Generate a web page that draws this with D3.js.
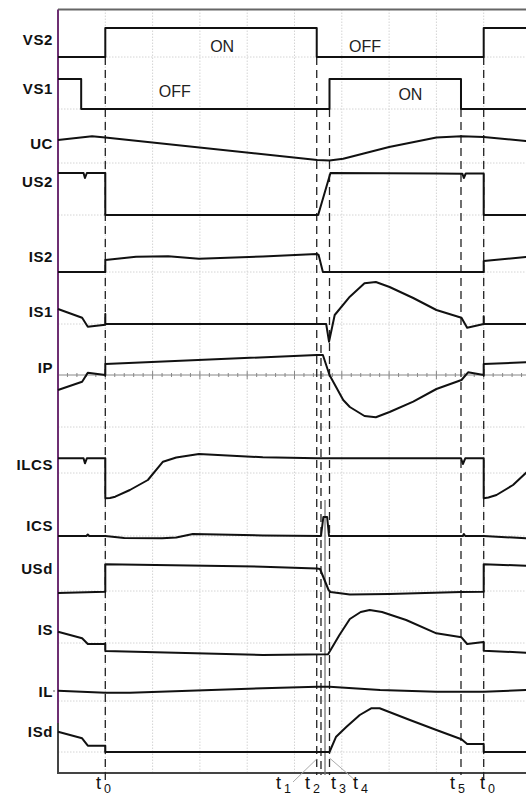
<!DOCTYPE html>
<html><head><meta charset="utf-8">
<script src="https://cdn.jsdelivr.net/npm/d3@7"></script>
<style>html,body{margin:0;padding:0;background:#fff;overflow:hidden}</style>
</head><body>
<svg id="chart" width="526" height="797"></svg>
<script>
// ---------- DATA (time in grid divisions, value in signal units) ----------
const signalNames = ["VS2","VS1","UC","US2","IS2","IS1","IP","ILCS","ICS","USd","IS","IL","ISd"];
const eventNames  = ["t0","t1","t2","t3","t4","t5","t0"];
const eventTimes  = [1.0, 5.47, 5.56, 5.645, 5.74, 8.52, 9.0];
const stateLabelsVS2 = [["ON",3.47],["OFF",6.49]];
const stateLabelsVS1 = [["OFF",2.47],["ON",7.45]];

const vs2 = [[0,0],[1,0],[1,29],[5.47,29],[5.47,0],[9,0],[9,29],[10,29]];
const vs1 = [[0,30],[0.49,30],[0.49,0],[5.74,0],[5.74,30],[8.52,30],[8.52,0],[10,0]];
const uc  = [[0,23],[0.72,26.7],[1.0,25.5],[5.48,3],[5.74,2.5],[6.03,4.3],[7.0,16],[8.0,25.5],[8.53,26.7],[9.0,26],[9.89,22],[10,21]];
const us2 = [[0,42],[0.54,42],[0.57,37],[0.61,42],[1,42],[1,0],[5.50,0],[5.76,42],[8.0,41.5],[8.55,41.3],[8.58,37],[8.62,41.5],[9.0,41.5],[9.0,0],[10,0]];
const is2 = [[0,0],[1,0],[1,12],[1.65,15.3],[2.33,15.7],[2.98,13.3],[4.33,15.5],[5.47,18],[5.51,17],[5.60,0],[9,0],[9,11],[9.89,15],[10,15.5]];
const is1 = [[0,15],[0.51,6.3],[0.63,-2.7],[1,-0.7],[1,10],[1,0],[5.67,0],[5.73,-17.7],[5.85,9],[6.17,27.3],[6.48,40.7],[6.72,42],[7.01,37],[7.51,26],[8.0,14],[8.53,6.3],[8.65,-3.7],[9,0],[9,7.7],[9,0],[10,0]];
const ip  = [[0,-15],[0.51,-6.7],[0.63,2.3],[1,0],[1,11],[5.47,20],[5.60,20],[5.74,0],[6.03,-25],[6.17,-32],[6.48,-41],[6.72,-42.3],[7.01,-37],[7.51,-26.7],[8.0,-14],[8.53,-5],[8.67,2.7],[9,0],[9,11],[9.89,12.7],[10,13]];
const ilcs= [[0,14.7],[0.54,14.7],[0.57,9.7],[0.61,14.7],[1,14.7],[1,-25.3],[1.1,-25],[1.21,-23.7],[1.52,-17],[1.90,-7],[2.22,11.3],[2.5,15.5],[2.98,19],[4.33,15.7],[5.48,14.7],[8.52,14.7],[8.56,9],[8.61,14.7],[9.0,14.7],[9.0,-25.3],[9.1,-24.5],[9.27,-22],[9.62,-12],[9.89,0],[10,4]];
const ics = [[0,0],[0.6,0],[0.63,1.5],[0.66,0],[1,0],[1.4,-2],[2.2,-2.3],[2.5,-1.5],[2.85,2],[4.33,0.5],[5.56,0],[5.61,19],[5.69,19],[5.73,0],[8.56,0],[8.58,2],[8.61,0],[9,0],[9.89,-2.3],[10,-2.5]];
const usd = [[0,-2],[1,-0.7],[1,26.7],[4.33,24.3],[5.47,22.5],[5.54,22],[5.72,1],[5.76,-1],[6.17,-3.5],[7.0,-3],[8.52,-1],[9,-0.7],[9,26.7],[9.89,25.3],[10,25.2]];
const isig= [[0,11.3],[0.51,4.7],[0.63,-1],[1,-1],[1,-8],[4.33,-12],[5.71,-11.3],[5.95,8],[6.17,24],[6.4,31],[6.59,33],[6.85,31],[7.36,23],[8.0,9.7],[8.53,5.7],[8.65,-1],[9,1],[9,-7.7],[9.89,-9.7],[10,-9.8]];
const il  = [[0,10.3],[1,8.3],[1.52,8.3],[4.33,12.7],[5.48,14.3],[5.74,14.3],[6.81,11],[8.0,9.3],[9.0,9.3],[9.89,11],[10,11]];
const isd = [[0,20.3],[0.51,13.7],[0.63,6.3],[1,6.3],[1,0],[5.74,0],[5.88,15.3],[6.10,25.3],[6.38,37],[6.62,43.7],[6.80,43.7],[7.44,32],[8.0,22],[8.53,12.7],[8.65,8],[9,8],[9,0],[10,0]];
const signalData = [vs2,vs1,uc,us2,is2,is1,ip,ilcs,ics,usd,isig,il,isd];

// ---------- LAYOUT ----------
const L = {left:58, right:531, top:9.5, bottom:773};
const baselines = [57,109,163,215,272,324,375,473,536,591,643,701,752];
const labelY    = [40,89,144,182,257,312,368,465,526,569,630,692,732];
const gridY = [57,109,163,215,272,324,427,473,536,591,643,701,752];
const eventTop = [57,57,345,500,109,109,57];
const eventBottom = [785,775,775,775,775,775,785];
const eventDash = ["8,5","8,5","8,5",null,"8,5","8,5","8,5"];

const svg = d3.select("#chart");
const x = d3.scaleLinear().domain([0,10]).range([L.left, L.right]);
const FONT = "'Liberation Sans', Arial, Helvetica, sans-serif";

// grid
const g = svg.append("g");
g.selectAll("line.vg").data(d3.range(1,10)).enter().append("line")
  .attr("x1",d=>x(d)).attr("x2",d=>x(d)).attr("y1",L.top).attr("y2",L.bottom)
  .attr("stroke","#d4d4d4").attr("stroke-width",1).attr("stroke-dasharray","1.5,1.5");
g.selectAll("line.hg").data(gridY).enter().append("line")
  .attr("x1",L.left).attr("x2",526).attr("y1",d=>d).attr("y2",d=>d)
  .attr("stroke","#d4d4d4").attr("stroke-width",1).attr("stroke-dasharray","1.5,1.5");

// IP zero axis with ticks
g.append("line").attr("x1",L.left).attr("x2",526).attr("y1",375).attr("y2",375).attr("stroke","#888").attr("stroke-width",1);
g.selectAll("line.tk").data(d3.range(0,10.01,0.2)).enter().append("line")
  .attr("x1",d=>x(d)).attr("x2",d=>x(d))
  .attr("y1",(d,i)=> i%5===0?371:373).attr("y2",(d,i)=> i%5===0?379:377)
  .attr("stroke","#888").attr("stroke-width",1);

// frame
svg.append("line").attr("x1",L.left).attr("x2",526).attr("y1",L.top).attr("y2",L.top).attr("stroke","#666").attr("stroke-width",2);
svg.append("line").attr("x1",L.left).attr("x2",526).attr("y1",L.bottom).attr("y2",L.bottom).attr("stroke","#444").attr("stroke-width",2);
svg.append("line").attr("x1",L.left).attr("x2",L.left).attr("y1",L.top).attr("y2",723).attr("stroke","#6d2f72").attr("stroke-width",2);
svg.append("line").attr("x1",L.left).attr("x2",L.left).attr("y1",723).attr("y2",L.bottom+1).attr("stroke","#444").attr("stroke-width",2);

// event lines
svg.selectAll("line.ev").data(eventTimes).enter().append("line")
  .attr("x1",d=>x(d)).attr("x2",d=>x(d))
  .attr("y1",(d,i)=>eventTop[i]).attr("y2",(d,i)=>eventBottom[i])
  .attr("stroke",(d,i)=>eventDash[i]?"#222":"#777")
  .attr("stroke-width",1.3)
  .attr("stroke-dasharray",(d,i)=>eventDash[i]);

// signals
const line = d3.line().x(d=>x(d[0]));
signalData.forEach((data,i)=>{
  const y = d3.scaleLinear().domain([0,50]).range([baselines[i], baselines[i]-50]);
  svg.append("path").datum(data)
    .attr("d", line.y(d=>y(d[1])))
    .attr("fill","none").attr("stroke","#111").attr("stroke-width",2)
    .attr("stroke-linejoin","round");
});

// signal labels
svg.selectAll("text.lab").data(signalNames).enter().append("text")
  .attr("x",53).attr("y",(d,i)=>labelY[i]).attr("dy","0.36em")
  .attr("text-anchor","end").attr("font-family",FONT).attr("font-weight","bold")
  .attr("font-size",15).attr("letter-spacing",0.6).attr("fill","#111").text(d=>d);
svg.append("circle").attr("cx",54).attr("cy",691).attr("r",1).attr("fill","#999");

// state labels
svg.selectAll("text.s2").data(stateLabelsVS2).enter().append("text")
  .attr("x",d=>x(d[1])).attr("y",51.5).attr("text-anchor","middle")
  .attr("font-family",FONT).attr("font-size",16).attr("fill","#222").text(d=>d[0]);
svg.selectAll("text.s1").data(stateLabelsVS1).enter().append("text")
  .attr("x",d=>x(d[1])).attr("y",(d,i)=>i===0?97:100).attr("text-anchor","middle")
  .attr("font-family",FONT).attr("font-size",16).attr("fill","#222").text(d=>d[0]);

// leader lines
svg.append("line").attr("x1",293).attr("y1",782).attr("x2",x(eventTimes[1])).attr("y2",759).attr("stroke","#aaa").attr("stroke-width",1);
svg.append("line").attr("x1",356).attr("y1",781).attr("x2",x(eventTimes[4])).attr("y2",758).attr("stroke","#aaa").attr("stroke-width",1);

// event labels
const labX = [96,276,305,331,353,450,480];
eventNames.forEach((n,i)=>{
  const t = svg.append("text").attr("font-family",FONT).attr("fill","#111");
  t.append("tspan").attr("x",labX[i]).attr("y",789).attr("font-size",18).text("t");
  t.append("tspan").attr("dx",3).attr("y",793).attr("font-size",12.5).text(n.slice(1));
});
</script>
</body></html>
